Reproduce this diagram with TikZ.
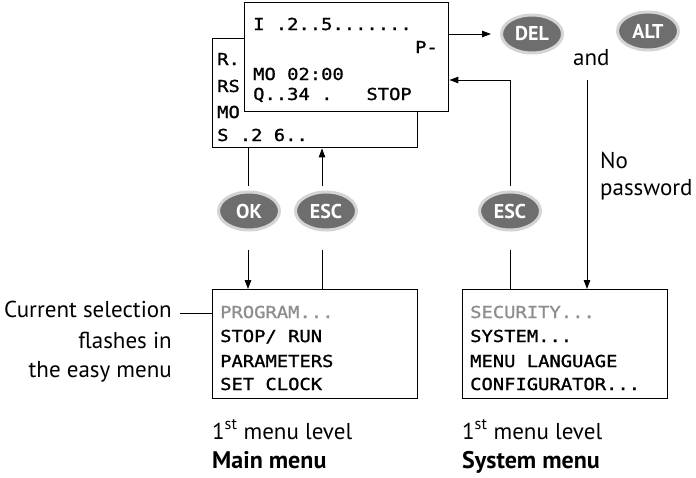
\documentclass[tikz,border=0pt]{standalone}
\usepackage{fontspec}
\setmainfont{PT Sans}
\newfontfamily\lcdfont[FakeStretch=1.14,FakeBold=1.2]{DejaVu Sans Mono}
\usetikzlibrary{shapes.geometric,arrows.meta}
\definecolor{btnfill}{HTML}{6E6E6E}
\definecolor{btnring}{HTML}{D4D4D4}
\definecolor{lcdgray}{HTML}{8E8E8E}
\tikzset{
  lcdbox/.style={draw=black, line width=1.4pt, fill=white, anchor=north west,
    minimum width=205pt, minimum height=109pt, inner sep=0pt},
  lcdtxt/.style={anchor=base west, inner sep=0pt, font=\lcdfont\fontsize{16.5}{18}\selectfont},
  btn/.style={ellipse, fill=btnfill, draw=btnring, line width=3pt,
    minimum width=61pt, minimum height=38pt, inner sep=0pt,
    text=white, font=\bfseries\fontsize{20}{22}\selectfont},
  lbl/.style={inner sep=0pt, font=\fontsize{23}{26}\selectfont},
  blbl/.style={inner sep=0pt, font=\bfseries\fontsize{24}{26}\selectfont},
  conn/.style={line width=0.9pt},
  arr/.style={conn, -{Triangle[length=9pt,width=6.5pt]}}
}
\begin{document}
\begin{tikzpicture}[x=1pt,y=-1pt]
\useasboundingbox (0,0) rectangle (696,477);
% back display
\node[lcdbox] (back) at (212,38) {};
\node[lcdtxt] (b1) at (217,65) {R.};
\node[lcdtxt] (b2) at (217,92) {RS};
\node[lcdtxt] (b3) at (217,118) {MO};
\node[lcdtxt] (b4) at (217,141) {S\ .2\ 6..};
% front display
\node[lcdbox, minimum width=204pt] (front) at (244,2) {};
\node[lcdtxt] (f1) at (253,30) {I\ .2..5.......};
\node[lcdtxt, anchor=base east] (f2) at (438,53) {P-};
\node[lcdtxt] (f3) at (253,80) {MO\ 02:00};
\node[lcdtxt] (f4) at (253,100) {Q..34\ .\ \ \ STOP};
% menus
\node[lcdbox] (main) at (212,289) {};
\node[lcdtxt, text=lcdgray] (m1) at (220,318) {PROGRAM...};
\node[lcdtxt] (m2) at (220,342) {STOP/\ RUN};
\node[lcdtxt] (m3) at (220,367) {PARAMETERS};
\node[lcdtxt] (m4) at (220,390) {SET\ CLOCK};
\node[lcdbox] (sys) at (462,289) {};
\node[lcdtxt, text=lcdgray] (s1) at (470,318) {SECURITY...};
\node[lcdtxt] (s2) at (470,342) {SYSTEM...};
\node[lcdtxt] (s3) at (470,367) {MENU\ LANGUAGE};
\node[lcdtxt] (s4) at (470,390) {CONFIGURATOR...};
% buttons
\node[btn] (ok) at (249,211) {OK};
\node[btn] (esc1) at (326,211) {ESC};
\node[btn] (esc2) at (510,211) {ESC};
\node[btn] (del) at (532,34) {DEL};
\node[btn] (alt) at (648,31) {ALT};
% labels
\node[lbl, anchor=base west] (and) at (573,65) {and};
\node[lbl, anchor=base west] (no) at (600,168) {No};
\node[lbl, anchor=base west] (pw) at (600,195) {password};
\node[lbl, anchor=base east] (c1) at (172,317) {Current selection};
\node[lbl, anchor=base east] (c2) at (172,348) {flashes in};
\node[lbl, anchor=base east] (c3) at (172,377) {the easy menu};
\node[lbl, anchor=base west] (l1) at (212,439) {1\textsuperscript{st} menu level};
\node[blbl, anchor=base west] (l2) at (212,468) {Main menu};
\node[lbl, anchor=base west] (r1) at (462,439) {1\textsuperscript{st} menu level};
\node[blbl, anchor=base west] (r2) at (462,468) {System menu};
% connectors
\coordinate (okx) at (248,0);
\coordinate (escx) at (322,0);
\coordinate (turn) at (510,80);
\coordinate (alttop) at (587,80);
\coordinate (selpt) at (180,313);
\draw[conn, shorten >=5pt] (okx |- back.south) -- (okx |- ok.north);
\draw[arr, shorten <=5pt] (escx |- esc1.north) -- (escx |- back.south);
\draw[arr, shorten <=18pt] (okx |- ok.south) -- (okx |- main.north);
\draw[conn, shorten <=18pt] (escx |- esc1.south) -- (escx |- main.north);
\draw[arr, shorten <=5pt] (esc2.north) -- (turn) -- (turn -| front.east);
\draw[conn, shorten <=18pt] (esc2.south) -- (esc2.south |- sys.north);
\draw[arr, shorten >=9pt] (front.east |- del.west) -- (del.west);
\draw[arr] (alttop) -- (alttop |- sys.north);
\draw[conn] (selpt) -- (selpt -| main.west);
\end{tikzpicture}
\end{document}
